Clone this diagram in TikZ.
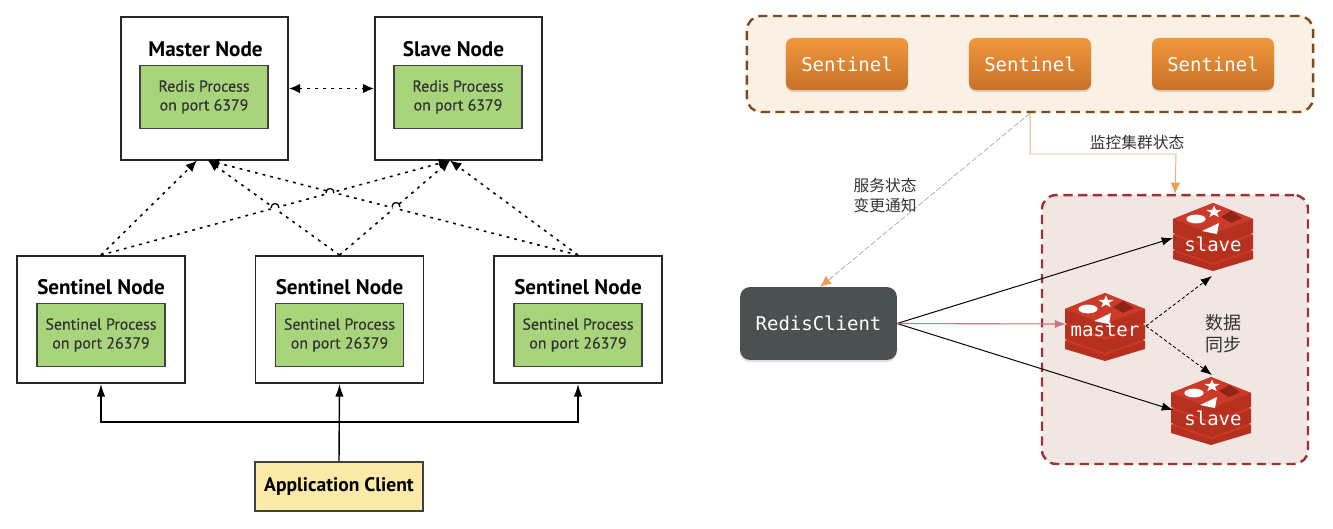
\documentclass[tikz,border=0pt]{standalone}
\usepackage{fontspec}
\setmainfont{PT Sans}
\newfontfamily\procfont[FakeBold=0.4]{PT Sans}
\newfontfamily\codefont{DejaVu Sans Mono}
\newfontfamily\cjkfont{Noto Sans CJK SC}
\usetikzlibrary{arrows.meta,shadows}

\definecolor{procgreen}{HTML}{A8D47C}
\definecolor{clientyellow}{HTML}{FBE9A8}
\definecolor{sentpanel}{HTML}{FAF0E3}
\definecolor{sentborder}{HTML}{7F4A17}
\definecolor{clusterpanel}{HTML}{F2E6E3}
\definecolor{clusterborder}{HTML}{A03038}
\definecolor{redistop}{HTML}{CC3A28}
\definecolor{redisside}{HTML}{B5301F}
\definecolor{redisdark}{HTML}{8E2418}
\definecolor{senttop}{HTML}{F0963C}
\definecolor{sentbottom}{HTML}{C87228}
\definecolor{clientgray}{HTML}{4B5050}
\definecolor{watchline}{HTML}{E0B27C}
\definecolor{notifyline}{HTML}{B8A68C}
\definecolor{notifytip}{HTML}{E8A050}
\definecolor{pinkline}{HTML}{C87880}

\tikzset{
  hostbox/.style={draw=black!85,line width=1.2pt,fill=white,inner sep=0pt},
  procbox/.style={draw=black!75,line width=1pt,fill=procgreen,inner sep=0pt,
    minimum width=3.2cm,minimum height=1.58cm,align=center,text=black!80,
    font=\fontsize{11.3}{13.4}\procfont},
  titletext/.style={inner sep=0pt,font=\fontsize{15}{17}\selectfont\bfseries},
  dotline/.style={line width=1.1pt,dash pattern=on 2pt off 3.6pt},
  feedline/.style={line width=1pt,-{Latex[length=9pt,width=6pt]}},
  sentbox/.style={rounded corners=5pt,top color=senttop,bottom color=sentbottom,
    text=white,inner sep=0pt,minimum width=3.05cm,minimum height=1.3cm,drop shadow={opacity=.25,shadow xshift=0pt,shadow yshift=-1.5pt},
    font=\fontsize{13.5}{15}\codefont},
  panelbox/.style={rounded corners=10pt,line width=1.7pt,dash pattern=on 6.5pt off 4pt,inner sep=0pt},
  cjktext/.style={inner sep=0pt,align=center,text=black!80,font=\fontsize{11.2}{13.7}\cjkfont},
  iconlabel/.style={inner sep=0pt,text=white,font=\fontsize{13.5}{15}\codefont},
  pics/redisstack/.style={code={
    \fill[redisside] (-40,14) -- (0,-4) -- (40,14) -- (40,22) -- (0,34) -- (-40,22) -- cycle;
    \fill[redistop] (-40,14) -- (0,-4) -- (40,14) -- (0,28) -- cycle;
    \fill[redisside] (-40,-2) -- (0,-20) -- (40,-2) -- (40,12) -- (0,26) -- (-40,12) -- cycle;
    \fill[redistop] (-40,-2) -- (0,-20) -- (40,-2) -- (0,13) -- cycle;
    \fill[redisside] (-40,-18) -- (0,-34) -- (40,-18) -- (40,-4) -- (0,10) -- (-40,-4) -- cycle;
    \fill[redistop] (-40,-18) -- (0,-34) -- (40,-18) -- (0,-3) -- cycle;
    \fill[white] (-17,-18) ellipse [x radius=0.24cm,y radius=0.11cm];
    \fill[white] (-11,-6) -- (6,-14) -- (4,-3) -- cycle;
    \fill[redisdark] (18,-26) -- (29,-19) -- (18,-14) -- (8,-20) -- cycle;
    \fill[white,shift={(1,-25)},yscale=.8] (0,-8) -- (1.9,-2.6) -- (7.6,-2.5) -- (3,1) -- (4.7,6.5)
      -- (0,3.2) -- (-4.7,6.5) -- (-3,1) -- (-7.6,-2.5) -- (-1.9,-2.6) -- cycle;
  }},
}

%% small bridge where a dotted line jumps over another
\newcommand{\linehop}[2]{
  \fill[white] (#1,#2) circle (0.09cm);
  \draw[line width=.9pt] (#1-4,#2) .. controls (#1-4,#2-6) and (#1+4,#2-6) .. (#1+4,#2);
}

\begin{document}
\begin{tikzpicture}[x=0.025cm,y=-0.025cm]
  \useasboundingbox (0,0) rectangle (1333,528);

%% left: hosts
  \node (MASTER) at (204.5,88.5) [hostbox,minimum width=4.18cm,minimum height=3.58cm] {};
  \node (SLAVE) at (458.5,88.5) [hostbox,minimum width=4.18cm,minimum height=3.58cm] {};
  \node (HOSTA) at (101,319.5) [hostbox,minimum width=4.2cm,minimum height=3.18cm] {};
  \node (HOSTB) at (339.5,319.5) [hostbox,minimum width=4.2cm,minimum height=3.18cm] {};
  \node (HOSTC) at (578,319.5) [hostbox,minimum width=4.2cm,minimum height=3.18cm] {};
  \node (MASTERT) at (205.5,49.5) [titletext] {Master Node};
  \node (SLAVET) at (453.5,49.5) [titletext] {Slave Node};
  \node (HOSTAT) at (101,287.5) [titletext] {Sentinel Node};
  \node (HOSTBT) at (339.5,287.5) [titletext] {Sentinel Node};
  \node (HOSTCT) at (578,287.5) [titletext] {Sentinel Node};
  \node (MASTERP) at (204,97) [procbox] {Redis Process\\on port 6379};
  \node (SLAVEP) at (458,97) [procbox] {Redis Process\\on port 6379};
  \node (HOSTAP) at (101,335) [procbox] {Sentinel Process\\on port 26379};
  \node (HOSTBP) at (339.5,335) [procbox] {Sentinel Process\\on port 26379};
  \node (HOSTCP) at (578,335) [procbox] {Sentinel Process\\on port 26379};
  \node (APP) at (339,486.5) [draw=black!75,line width=1pt,fill=clientyellow,inner sep=0pt,
    minimum width=4.2cm,minimum height=1.22cm,font=\fontsize{13.9}{16}\selectfont\bfseries] {Application Client};

%% left: connectors
  \coordinate (MASTERL) at (197,160.5);
  \coordinate (MASTERR) at (208,160.5);
  \coordinate (SLAVEIN) at (450,160.5);
  \coordinate (BUS) at (339.5,422);
  \draw[dotline,{Latex[length=8pt,width=7pt]}-{Latex[length=8pt,width=7pt]}] (MASTER.east) -- (SLAVE.west);
  \draw[dotline,-{Latex[length=8pt,width=7pt]}] (HOSTA.north) -- (MASTERL);
  \draw[dotline,-{Latex[length=8pt,width=7pt]}] (HOSTA.north) -- (SLAVEIN);
  \draw[dotline,-{Latex[length=8pt,width=7pt]}] (HOSTB.north) -- (MASTERR);
  \draw[dotline,-{Latex[length=8pt,width=7pt]}] (HOSTB.north) -- (SLAVEIN);
  \draw[dotline,-{Latex[length=8pt,width=7pt]}] (HOSTC.north) -- (MASTERR);
  \draw[dotline,-{Latex[length=8pt,width=7pt]}] (HOSTC.north) -- (SLAVEIN);
  \linehop{275}{208}
  \linehop{330}{193}
  \linehop{396}{207}
  \draw[feedline] (APP.north) -- (HOSTB.south);
  \draw[feedline] (BUS) -| (HOSTA.south);
  \draw[feedline] (BUS) -| (HOSTC.south);

%% right: panels
  \node (SENTPANEL) at (1030,64) [panelbox,draw=sentborder,fill=sentpanel,minimum width=14.15cm,minimum height=2.4cm] {};
  \node (CLUSTER) at (1175,329.5) [panelbox,draw=clusterborder,fill=clusterpanel,minimum width=6.65cm,minimum height=6.72cm] {};
  \node (SENTA) at (847,64) [sentbox] {Sentinel};
  \node (SENTB) at (1030,64) [sentbox] {Sentinel};
  \node (SENTC) at (1213,64) [sentbox] {Sentinel};
  \node (CLIENT) at (818.5,323.5) [rounded corners=7pt,fill=clientgray,text=white,inner sep=0pt,
    minimum width=3.92cm,minimum height=1.82cm,drop shadow={opacity=.25,shadow xshift=0pt,shadow yshift=-1.5pt},
    font=\fontsize{13.5}{15}\codefont] {RedisClient};

%% right: redis stacks
  \pic at (1213,237) {redisstack};
  \pic at (1105,327) {redisstack};
  \pic at (1211,411) {redisstack};
  \node (SLAVEA) at (1213,244) [iconlabel] {slave};
  \node (REDISM) at (1105,330) [iconlabel] {master};
  \node (SLAVEB) at (1213,418) [iconlabel] {slave};

%% right: connectors
  \coordinate (BEND) at (1176,154);
  \coordinate (CLIENTIN) at (820,287);
  \coordinate (CLIENTOUT) at (897,323.5);
  \coordinate (MASTERIN) at (1066,324);
  \coordinate (MASTEROUT) at (1146,326);
  \coordinate (SLAVEAIN) at (1173,238);
  \coordinate (SLAVEAFED) at (1212,276);
  \coordinate (SLAVEBIN) at (1173,410);
  \coordinate (SLAVEBFED) at (1212,375);
  \draw[watchline,line width=.7pt,-{Latex[length=8pt,width=7pt,color=notifytip]}] (SENTPANEL.south) |- (BEND) -- (CLUSTER.north);
  \draw[notifyline,line width=.5pt,dash pattern=on 4pt off 1.5pt,-{Latex[length=8pt,width=7pt,color=notifytip]}] (SENTPANEL.south) -- (CLIENTIN);
  \draw[black,line width=.7pt,-{Latex[length=8pt,width=6pt]}] (CLIENTOUT) -- (SLAVEAIN);
  \draw[black,line width=.7pt,-{Latex[length=8pt,width=6pt]}] (CLIENTOUT) -- (SLAVEBIN);
  \draw[pinkline,line width=.8pt,-{Latex[length=8pt,width=6pt]}] (CLIENTOUT) -- (MASTERIN);
  \draw[black,line width=.6pt,dash pattern=on 2.4pt off 1.6pt,-{Latex[length=8pt,width=6pt]}] (MASTEROUT) -- (SLAVEAFED);
  \draw[black,line width=.6pt,dash pattern=on 2.4pt off 1.6pt,-{Latex[length=8pt,width=6pt]}] (MASTEROUT) -- (SLAVEBFED);

%% right: labels
  \node (WATCHL) at (1137,142) [cjktext] {监控集群状态};
  \node (NOTIFYL) at (885,195.5) [cjktext] {服务状态\\变更通知};
  \node (SYNCL) at (1223,334) [cjktext,font=\fontsize{12.8}{15.6}\cjkfont] {数据\\同步};

\end{tikzpicture}
\end{document}
